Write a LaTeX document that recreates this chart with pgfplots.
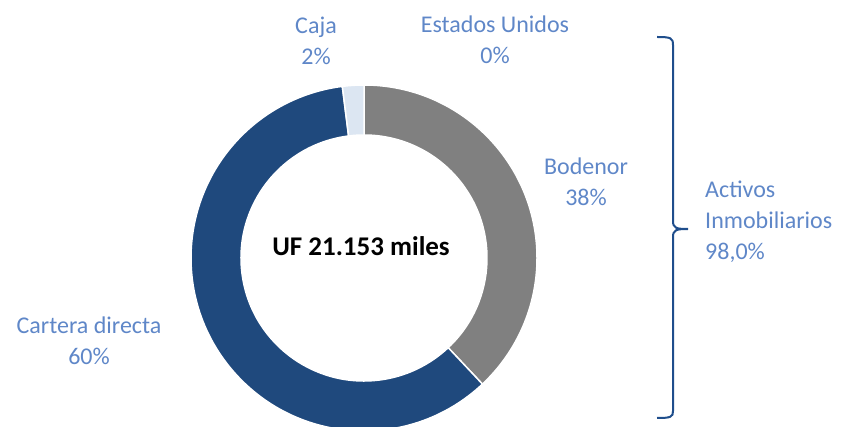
\documentclass[border=0pt]{standalone}
\usepackage{pgfplots}
\pgfplotsset{compat=1.18}
\usepackage{fontspec}
\setmainfont{Carlito}
\definecolor{cgray}{HTML}{808080}
\definecolor{cdark}{HTML}{1F497D}
\definecolor{clight}{HTML}{DCE6F2}
\definecolor{clabel}{HTML}{5F87C8}
\definecolor{cbrace}{HTML}{1F4E8C}
% shares in percent, clockwise from 12 o'clock
\def\vBod{38}
\def\vCart{60}
\def\vCaja{2}
\def\vEEUU{0}
\def\Rout{173bp}
\def\Rin{123bp}
\begin{document}
\begin{tikzpicture}
\begin{axis}[
  width=856bp, height=427bp, scale only axis,
  xmin=0, xmax=856, ymin=0, ymax=427,
  hide axis, clip=true,
]
\addplot[draw=none] coordinates {(0,0)(856,427)};
% wedges: outer arc, then back along inner arc
\fill[cgray, draw=white, line width=1.5bp] (axis cs:364,169) ++(90:\Rout)
  arc[start angle=90, end angle={90-3.6*\vBod}, radius=\Rout]
  -- ++({90-3.6*\vBod}:-50bp)
  arc[start angle={90-3.6*\vBod}, end angle=90, radius=\Rin] -- cycle;
\fill[cdark, draw=white, line width=1.5bp] (axis cs:364,169) ++({90-3.6*\vBod}:\Rout)
  arc[start angle={90-3.6*\vBod}, end angle={90-3.6*(\vBod+\vCart)}, radius=\Rout]
  -- ++({90-3.6*(\vBod+\vCart)}:-50bp)
  arc[start angle={90-3.6*(\vBod+\vCart)}, end angle={90-3.6*\vBod}, radius=\Rin] -- cycle;
\fill[clight, draw=white, line width=1.5bp] (axis cs:364,169) ++({90-3.6*(\vBod+\vCart)}:\Rout)
  arc[start angle={90-3.6*(\vBod+\vCart)}, end angle={90-3.6*(\vBod+\vCart+\vCaja)}, radius=\Rout]
  -- ++({90-3.6*(\vBod+\vCart+\vCaja)}:-50bp)
  arc[start angle={90-3.6*(\vBod+\vCart+\vCaja)}, end angle={90-3.6*(\vBod+\vCart)}, radius=\Rin] -- cycle;
% labels
\begin{scope}[every node/.style={font=\fontsize{24bp}{31bp}\selectfont, text=clabel, align=center, inner sep=0pt}]
\node at (axis cs:316,386) {Caja\\\vCaja\%};
\node at (axis cs:495,387) {Estados Unidos\\\vEEUU\%};
\node at (axis cs:586,245) {Bodenor\\\vBod\%};
\node at (axis cs:89,86) {Cartera directa\\\vCart\%};
\node[anchor=west, align=left] at (axis cs:705,205) {Activos\\Inmobiliarios\\98,0\%};
\end{scope}
\node[font=\fontsize{27bp}{30bp}\selectfont\bfseries, inner sep=0pt] at (axis cs:361,181) {UF 21.153 miles};
% brace
\draw[cbrace, line width=2bp]
  (axis cs:657,390) .. controls (axis cs:671,390) and (axis cs:673,389) .. (axis cs:673,382)
  -- (axis cs:673,206) .. controls (axis cs:673,199) and (axis cs:676,198) .. (axis cs:688,198)
  .. controls (axis cs:676,198) and (axis cs:673,197) .. (axis cs:673,190)
  -- (axis cs:673,16) .. controls (axis cs:673,10) and (axis cs:671,9) .. (axis cs:657,9);
\end{axis}
\end{tikzpicture}
\end{document}
